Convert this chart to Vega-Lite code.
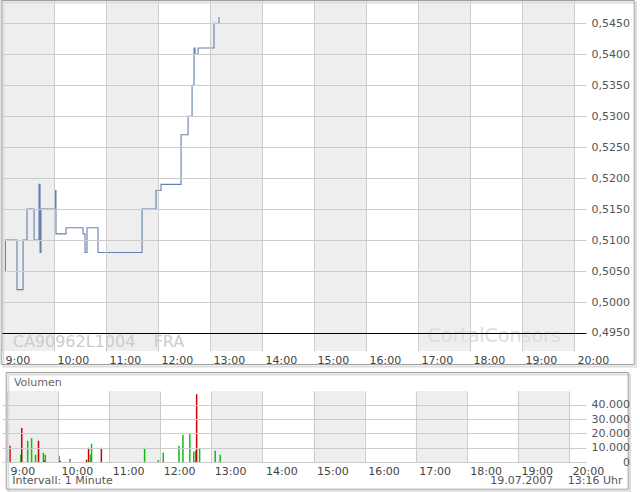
{
  "$schema": "https://vega.github.io/schema/vega-lite/v6.json",
  "padding": 0,
  "background": "white",
  "bounds": "flush",
  "spacing": 40,
  "config": {"view": {"stroke": null}, "font": "DejaVu Sans"},
  "datasets": {
    "bands": [{"a":0,"b":60},{"a":120,"b":180},{"a":240,"b":300},{"a":360,"b":420},{"a":480,"b":540},{"a":600,"b":660}],
    "price": [
      {"t":3.5,"p":0.505},{"t":4.0,"p":0.510},{"t":17.3,"p":0.502},{"t":24.3,"p":0.510},{"t":28.9,"p":0.515},
      {"t":37.0,"p":0.510},{"t":42.7,"p":0.519},{"t":43.9,"p":0.508},{"t":45.0,"p":0.515},{"t":61.2,"p":0.518},
      {"t":62.3,"p":0.511},{"t":73.9,"p":0.512},{"t":93.5,"p":0.511},{"t":95.8,"p":0.508},{"t":98.1,"p":0.512},
      {"t":110.8,"p":0.508},{"t":161.6,"p":0.515},{"t":177.7,"p":0.518},{"t":183.5,"p":0.519},{"t":206.6,"p":0.527},
      {"t":214.7,"p":0.530},{"t":219.3,"p":0.535},{"t":221.6,"p":0.541},{"t":222.7,"p":0.540},{"t":226.2,"p":0.541},
      {"t":244.6,"p":0.545},{"t":250.4,"p":0.546}
    ],
    "vol": [
      {"t":3.5,"v":11300,"d":"down"},{"t":16.2,"v":5100,"d":"up"},{"t":17.3,"v":23800,"d":"down"},{"t":24.3,"v":14800,"d":"up"},
      {"t":28.9,"v":16600,"d":"up"},{"t":33.5,"v":5100,"d":"up"},{"t":37.0,"v":14800,"d":"down"},{"t":42.7,"v":6500,"d":"up"},
      {"t":43.9,"v":1200,"d":"down"},{"t":45.0,"v":5100,"d":"up"},{"t":61.2,"v":4400,"d":"up"},{"t":62.3,"v":900,"d":"down"},
      {"t":73.9,"v":2300,"d":"up"},{"t":93.5,"v":1600,"d":"down"},{"t":95.8,"v":9900,"d":"down"},{"t":98.1,"v":5100,"d":"up"},
      {"t":99.3,"v":12700,"d":"up"},{"t":110.8,"v":9900,"d":"down"},{"t":161.6,"v":9900,"d":"up"},{"t":177.7,"v":1200,"d":"up"},
      {"t":183.5,"v":6500,"d":"up"},{"t":202.0,"v":11300,"d":"up"},{"t":206.6,"v":19000,"d":"up"},{"t":214.7,"v":19900,"d":"up"},
      {"t":219.3,"v":7200,"d":"up"},{"t":221.6,"v":7900,"d":"up"},{"t":222.7,"v":47300,"d":"down"},{"t":226.2,"v":9900,"d":"up"},
      {"t":244.6,"v":7900,"d":"up"},{"t":250.4,"v":5100,"d":"up"}
    ]
  },
  "vconcat": [
    {
      "width": 572,
      "height": 350,
      "layer": [
        {
          "data": {"name": "bands"},
          "mark": {"type": "rect", "color": "#eeeeee"},
          "encoding": {
            "x": {"field": "a", "type": "quantitative",
              "scale": {"domain": [0, 660], "nice": false, "zero": false},
              "axis": {"values": [0,60,120,180,240,300,360,420,480,540,600,660],
                "tickCount": 30,
                "labelExpr": "(9 + round(datum.value/60)) + ':00'",
                "labelAlign": "left", "labelOffset": 3, "labelFlush": false, "labelPadding": 3,
                "labelOverlap": false,
                "labelBaseline": "top", "ticks": false, "tickSize": 0, "domain": false,
                "grid": true, "gridColor": "#cccccc", "title": null, "zindex": 1,
                "labelFontSize": 11, "labelColor": "#444444", "labelFont": "DejaVu Sans"}},
            "x2": {"field": "b"}
          }
        },
        {
          "data": {"values": [{}]},
          "mark": {"type": "text", "text": "CA90962L1004", "align": "left", "baseline": "alphabetic", "fontSize": 16, "color": "#cccccc", "font": "DejaVu Sans"},
          "encoding": {"x": {"datum": 12.35, "type": "quantitative"}, "y": {"datum": 0.49274, "type": "quantitative"}}
        },
        {
          "data": {"values": [{}]},
          "mark": {"type": "text", "text": "FRA", "align": "left", "baseline": "alphabetic", "fontSize": 16, "color": "#cccccc", "font": "DejaVu Sans"},
          "encoding": {"x": {"datum": 175, "type": "quantitative"}, "y": {"datum": 0.49274, "type": "quantitative"}}
        },
        {
          "data": {"values": [{}]},
          "mark": {"type": "text", "text": "CortalConsors", "align": "left", "baseline": "alphabetic", "fontSize": 19, "color": "#dddddd", "font": "DejaVu Sans"},
          "encoding": {"x": {"datum": 491, "type": "quantitative"}, "y": {"datum": 0.49355, "type": "quantitative"}}
        },
        {
          "data": {"name": "price"},
          "mark": {"type": "line", "interpolate": "step-after", "color": "#6580ae", "strokeWidth": 1.1},
          "encoding": {
            "x": {"field": "t", "type": "quantitative"},
            "y": {"field": "p", "type": "quantitative",
              "scale": {"domain": [0.49209, 0.5486], "nice": false, "zero": false},
              "axis": {"orient": "right",
                "values": [0.495,0.5,0.505,0.51,0.515,0.52,0.525,0.53,0.535,0.54,0.545],
                "tickCount": 30,
                "labelExpr": "replace(format(datum.value,'.4f'),'.',',')",
                "labelOverlap": false,
                "tickSize": 12,
                "tickColor": {"condition": {"test": "abs(datum.value-0.495)<0.0001", "value": "#000000"}, "value": "#cccccc"},
                "gridColor": {"condition": {"test": "abs(datum.value-0.495)<0.0001", "value": "#000000"}, "value": "#cccccc"},
                "grid": true, "domain": false, "title": null,
                "labelAlign": "right", "labelPadding": 43.5,
                "labelFontSize": 11, "labelColor": "#555555", "labelFont": "DejaVu Sans", "zindex": 1}}
          }
        },
        {
          "data": {"values": [{}]},
          "mark": {"type": "rect", "fillOpacity": 0, "stroke": "#dddddd", "strokeWidth": 2},
          "encoding": {
            "x": {"datum": 1.5, "type": "quantitative"}, "x2": {"datum": 731.5},
            "y": {"datum": 0.54835, "type": "quantitative"}, "y2": {"datum": 0.48959}
          }
        },
        {
          "data": {"values": [{}]},
          "mark": {"type": "rect", "fillOpacity": 0, "stroke": "#a0a0a0", "strokeWidth": 1},
          "encoding": {
            "x": {"datum": -0.92, "type": "quantitative"}, "x2": {"datum": 729.5},
            "y": {"datum": 0.54868, "type": "quantitative"}, "y2": {"datum": 0.48991}
          }
        }
      ]
    },
    {
      "width": 572,
      "height": 71,
      "layer": [
        {
          "data": {"name": "bands"},
          "mark": {"type": "rect", "color": "#eeeeee"},
          "encoding": {
            "x": {"field": "a", "type": "quantitative",
              "scale": {"domain": [0, 660], "nice": false, "zero": false},
              "axis": {"values": [0,60,120,180,240,300,360,420,480,540,600,660],
                "tickCount": 30,
                "labelExpr": "(9 + round(datum.value/60)) + ':00'",
                "labelAlign": "left", "labelOffset": 3, "labelFlush": false, "labelPadding": 3,
                "labelOverlap": false,
                "labelBaseline": "top", "ticks": false, "tickSize": 0, "domain": false,
                "grid": true, "gridColor": "#cccccc", "title": null, "zindex": 1,
                "labelFontSize": 11, "labelColor": "#444444", "labelFont": "DejaVu Sans"}},
            "x2": {"field": "b"}
          }
        },
        {
          "data": {"name": "vol"},
          "mark": {"type": "bar", "size": 1.5},
          "encoding": {
            "x": {"field": "t", "type": "quantitative"},
            "y": {"field": "v", "type": "quantitative",
              "scale": {"domain": [0, 49550], "nice": false},
              "axis": {"orient": "right", "values": [0,10000,20000,30000,40000],
                "tickCount": 30,
                "labelExpr": "replace(format(datum.value, ','), ',', '.')",
                "labelOverlap": false,
                "tickSize": 12, "tickColor": "#cccccc", "grid": true, "gridColor": "#cccccc",
                "domain": false, "title": null, "labelAlign": "right", "labelPadding": 43.5,
                "labelFontSize": 11, "labelColor": "#555555", "labelFont": "DejaVu Sans", "zindex": 1}},
            "color": {"field": "d", "type": "nominal", "scale": {"domain": ["up", "down"], "range": ["#0cbf0c", "#cc0000"]}, "legend": null}
          }
        },
        {
          "data": {"values": [{}]},
          "mark": {"type": "text", "text": "Volumen", "align": "left", "baseline": "alphabetic", "fontSize": 11, "color": "#666666", "font": "DejaVu Sans"},
          "encoding": {"x": {"datum": 8.1, "type": "quantitative"}, "y": {"datum": 53040, "type": "quantitative"}}
        },
        {
          "data": {"values": [{}]},
          "mark": {"type": "text", "text": "Intervall: 1 Minute", "align": "left", "baseline": "alphabetic", "fontSize": 11, "color": "#555555", "font": "DejaVu Sans"},
          "encoding": {"x": {"datum": 6.2, "type": "quantitative"}, "y": {"datum": -15140, "type": "quantitative"}}
        },
        {
          "data": {"values": [{}]},
          "mark": {"type": "text", "text": "19.07.2007", "align": "right", "baseline": "alphabetic", "fontSize": 11, "color": "#555555", "font": "DejaVu Sans"},
          "encoding": {"x": {"datum": 641.5, "type": "quantitative"}, "y": {"datum": -15140, "type": "quantitative"}}
        },
        {
          "data": {"values": [{}]},
          "mark": {"type": "text", "text": "13:16 Uhr", "align": "right", "baseline": "alphabetic", "fontSize": 11, "color": "#555555", "font": "DejaVu Sans"},
          "encoding": {"x": {"datum": 722.8, "type": "quantitative"}, "y": {"datum": -15140, "type": "quantitative"}}
        },
        {
          "data": {"values": [{}]},
          "mark": {"type": "rect", "fillOpacity": 0, "stroke": "#dddddd", "strokeWidth": 2},
          "encoding": {
            "x": {"datum": 1.5, "type": "quantitative"}, "x2": {"datum": 731.5},
            "y": {"datum": 61060, "type": "quantitative"}, "y2": {"datum": -20380}
          }
        },
        {
          "data": {"values": [{}]},
          "mark": {"type": "rect", "fillOpacity": 0, "stroke": "#a0a0a0", "strokeWidth": 1},
          "encoding": {
            "x": {"datum": -0.92, "type": "quantitative"}, "x2": {"datum": 729.5},
            "y": {"datum": 62460, "type": "quantitative"}, "y2": {"datum": -18980}
          }
        }
      ]
    }
  ]
}
